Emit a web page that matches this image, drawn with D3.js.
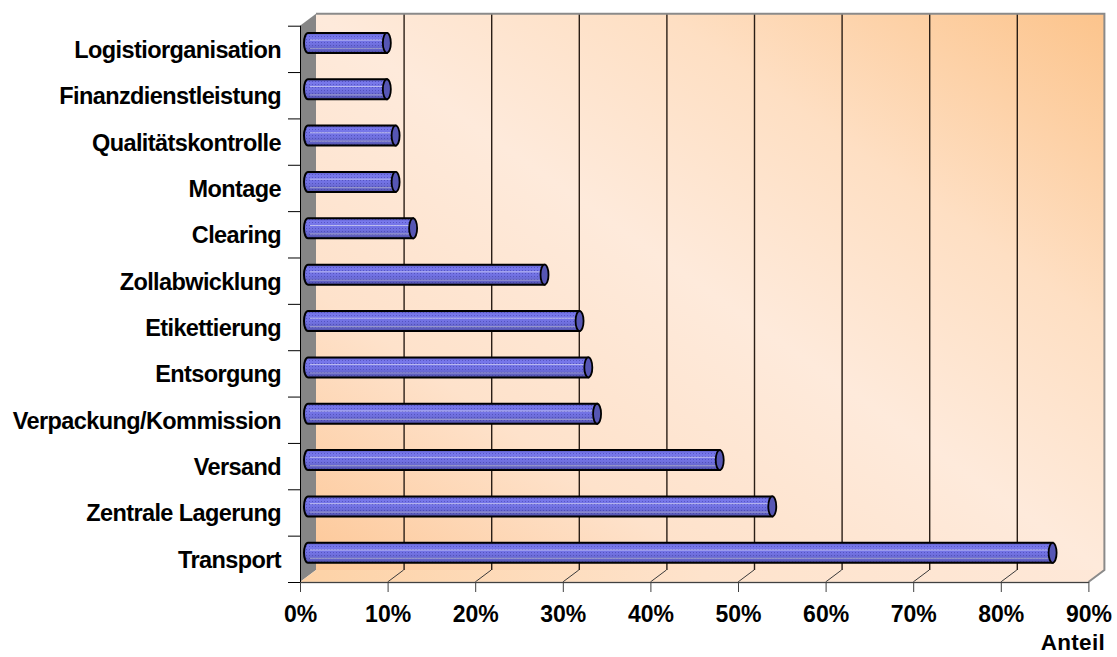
<!DOCTYPE html>
<html>
<head>
<meta charset="utf-8">
<script src="https://cdn.jsdelivr.net/npm/d3@7"></script>
<style>
  body { margin: 0; background: #fff; }
  svg { display: block; }
  text { font-family: "Liberation Sans", Arial, sans-serif; font-weight: bold; fill: #000; }
</style>
</head>
<body>
<svg id="chart" width="1117" height="657"></svg>
<script>
// Share of logistics services (top to bottom)
const categories = [
  "Logistiorganisation", "Finanzdienstleistung", "Qualitätskontrolle", "Montage",
  "Clearing", "Zollabwicklung", "Etikettierung", "Entsorgung",
  "Verpackung/Kommission", "Versand", "Zentrale Lagerung", "Transport"
];
const shares = [9, 9, 10, 10, 12, 27, 31, 32, 33, 47, 53, 85];
const tickValues = [0, 10, 20, 30, 40, 50, 60, 70, 80, 90];
const axisTitle = "Anteil";

const svg = d3.select("#chart");
const defs = svg.append("defs");

// front plane of the 3D box
const x = d3.scaleLinear().domain([0, 90]).range([300, 1088.4]);
const y = d3.scaleBand().domain(categories).range([25.7, 582]);
const depthX = 16, depthY = -12;          // offset from front plane to back wall
const yTop = y.range()[0], yBottom = y.range()[1];
const xLeft = x.range()[0], xRight = x.range()[1];

// gradients
const wallGrad = defs.append("linearGradient").attr("id", "wallGrad")
  .attr("x1", 0).attr("y1", 1).attr("x2", 1).attr("y2", 0);
[[0, "#fdc898"], [0.25, "#fee2cb"], [0.5, "#feeadb"], [0.72, "#fedfc3"], [1, "#fcc48c"]]
  .forEach(([o, c]) => wallGrad.append("stop").attr("offset", o).attr("stop-color", c));

const floorGrad = defs.append("linearGradient").attr("id", "floorGrad")
  .attr("x1", 0).attr("y1", 0).attr("x2", 1).attr("y2", 0);
[[0, "#fdd2a6"], [0.5, "#fee3cc"], [1, "#fee8d8"]]
  .forEach(([o, c]) => floorGrad.append("stop").attr("offset", o).attr("stop-color", c));

const barGrad = defs.append("linearGradient").attr("id", "barGrad")
  .attr("x1", 0).attr("y1", 0).attr("x2", 0).attr("y2", 1);
[[0, "#5a5ac4"], [0.15, "#7878ec"], [0.55, "#7171e2"], [0.82, "#6464c8"], [1, "#4c4ca4"]]
  .forEach(([o, c]) => barGrad.append("stop").attr("offset", o).attr("stop-color", c));

const dots = defs.append("pattern").attr("id", "dots")
  .attr("width", 3).attr("height", 3).attr("patternUnits", "userSpaceOnUse");
dots.append("rect").attr("width", 1).attr("height", 1).attr("fill", "#2e2e90").attr("opacity", 0.45);

// back wall
svg.append("rect")
  .attr("x", xLeft + depthX).attr("y", yTop + depthY)
  .attr("width", xRight - xLeft).attr("height", yBottom - yTop)
  .attr("fill", "url(#wallGrad)");

// gridlines on the back wall
svg.append("g").selectAll("line").data(tickValues.slice(1, -1)).join("line")
  .attr("x1", d => x(d) + depthX + 0.5).attr("x2", d => x(d) + depthX + 0.5)
  .attr("y1", yTop + depthY).attr("y2", yBottom + depthY)
  .attr("stroke", "#2a1e16").attr("stroke-width", 1.4);

// side wall
svg.append("path")
  .attr("d", `M${xLeft},${yTop}L${xLeft + depthX},${yTop + depthY}L${xLeft + depthX},${yBottom + depthY}L${xLeft},${yBottom}Z`)
  .attr("fill", "#868686");

// floor
svg.append("path")
  .attr("d", `M${xLeft},${yBottom}L${xLeft + depthX},${yBottom + depthY}L${xRight + depthX},${yBottom + depthY}L${xRight},${yBottom}Z`)
  .attr("fill", "url(#floorGrad)");

// gridlines across the floor
svg.append("g").selectAll("line").data(tickValues.slice(1, -1)).join("line")
  .attr("x1", d => x(d)).attr("y1", yBottom)
  .attr("x2", d => x(d) + depthX).attr("y2", yBottom + depthY)
  .attr("stroke", "#3a3a3a").attr("stroke-width", 1);

// box edges
svg.append("path")
  .attr("d", `M${xLeft + depthX},${yTop + depthY}L${xRight + depthX},${yTop + depthY}L${xRight + depthX},${yBottom + depthY}L${xRight},${yBottom}`)
  .attr("fill", "none").attr("stroke", "#8a8a8a").attr("stroke-width", 2);
svg.append("line")
  .attr("x1", xLeft).attr("x2", xRight).attr("y1", yBottom + 0.5).attr("y2", yBottom + 0.5)
  .attr("stroke", "#8a8a8a").attr("stroke-width", 1.5);

// cylinders, placed halfway into the depth
const barH = 20, rx = 4;
const midX = depthX / 2, midY = depthY / 2;
const rows = categories.map((c, i) => ({ c, v: shares[i] }));
const bars = svg.append("g").selectAll("g").data(rows).join("g");
const cyOf = d => y(d.c) + y.bandwidth() / 2 + midY;

function bodyPath(d) {
  const cy = cyOf(d);
  const yt = cy - barH / 2, yb = cy + barH / 2;
  const a = x(0) + midX, b = x(d.v) + midX;
  return `M${a},${yt}L${b},${yt}L${b},${yb}L${a},${yb}A${rx},${barH / 2} 0 0 1 ${a},${yt}Z`;
}
bars.append("path").attr("d", bodyPath).attr("fill", "url(#barGrad)");
bars.append("path").attr("d", bodyPath).attr("fill", "url(#dots)");
// highlight streaks along the cylinder
bars.append("line")
  .attr("x1", x(0) + midX + 2).attr("x2", d => x(d.v) + midX - 2)
  .attr("y1", d => cyOf(d) - barH * 0.14).attr("y2", d => cyOf(d) - barH * 0.14)
  .attr("stroke", "#d6d6f4").attr("stroke-width", 1).attr("opacity", 0.75);
bars.append("line")
  .attr("x1", x(0) + midX + 2).attr("x2", d => x(d.v) + midX - 2)
  .attr("y1", d => cyOf(d) + barH * 0.28).attr("y2", d => cyOf(d) + barH * 0.28)
  .attr("stroke", "#a8a8cc").attr("stroke-width", 1.2).attr("opacity", 0.7);
bars.append("path").attr("d", bodyPath)
  .attr("fill", "none").attr("stroke", "#000").attr("stroke-width", 2);
// end caps
bars.append("ellipse")
  .attr("cx", d => x(d.v) + midX).attr("cy", cyOf)
  .attr("rx", rx).attr("ry", barH / 2)
  .attr("fill", "#5656b4").attr("stroke", "#000").attr("stroke-width", 1.8);

// category axis
const yAxis = svg.append("g").attr("transform", `translate(${xLeft},0)`)
  .call(d3.axisLeft(y).tickSize(0).tickPadding(19));
yAxis.select(".domain").remove();
yAxis.selectAll("text")
  .attr("dy", "0.38em")
  .style("font-size", "23.5px").style("letter-spacing", "-0.6px");

// ticks between categories
svg.append("g").selectAll("line")
  .data(categories.map(c => y(c)).concat([yBottom])).join("line")
  .attr("x1", xLeft - 12).attr("x2", xLeft).attr("y1", d => d + 0.5).attr("y2", d => d + 0.5)
  .attr("stroke", "#000").attr("stroke-width", 1);
svg.append("line")
  .attr("x1", xLeft + 0.5).attr("x2", xLeft + 0.5).attr("y1", yTop).attr("y2", yBottom)
  .attr("stroke", "#000").attr("stroke-width", 1);

// value axis
const xAxis = svg.append("g").attr("transform", `translate(0,${yBottom})`)
  .call(d3.axisBottom(x).tickValues(tickValues).tickFormat(d => d + "%")
    .tickSize(10).tickSizeOuter(0).tickPadding(14));
xAxis.select(".domain").attr("stroke", "#404040");
xAxis.selectAll(".tick line").attr("stroke", "#404040");
xAxis.selectAll("text").style("font-size", "23px");

svg.append("text")
  .attr("x", 1105).attr("y", 650).attr("text-anchor", "end")
  .style("font-size", "22.5px").style("letter-spacing", "0.3px")
  .text(axisTitle);
</script>
</body>
</html>
